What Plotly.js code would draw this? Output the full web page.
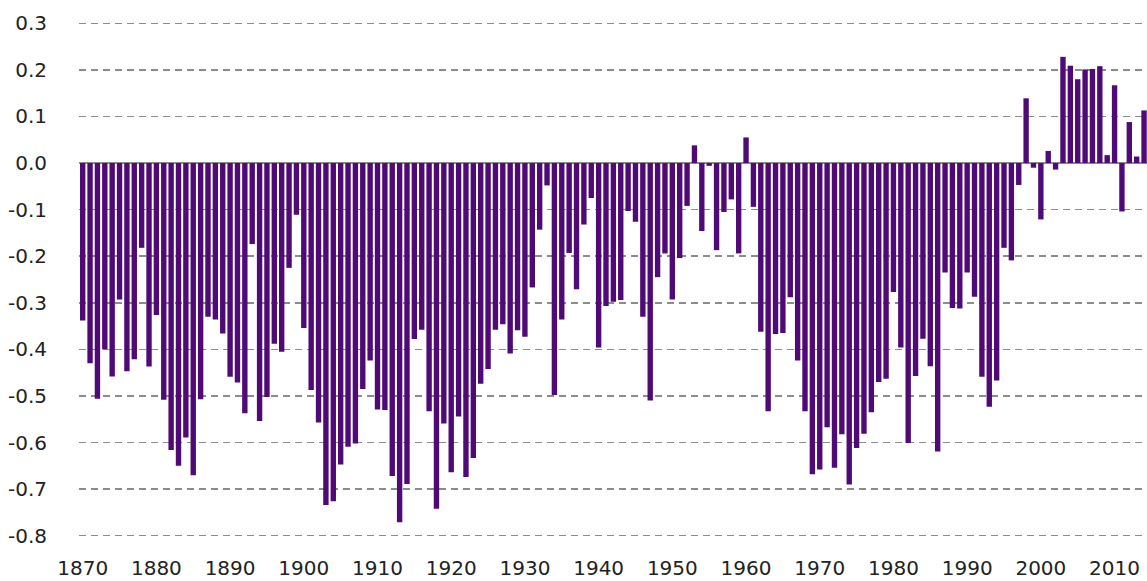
<!DOCTYPE html>
<html>
<head>
<meta charset="utf-8">
<script src="https://cdn.plot.ly/plotly-3.0.1.min.js"></script>
<style>html,body{margin:0;padding:0;background:#fff;}#chart{width:1147px;height:581px;}</style>
</head>
<body>
<div id="chart"></div>
<script>
const years = [];
for (let y = 1870; y <= 2014; y++) years.push(y);

const values = [
  -0.338, -0.430, -0.506, -0.400, -0.458, -0.293, -0.447, -0.421, -0.182, -0.437,
  -0.326, -0.508, -0.616, -0.650, -0.589, -0.670, -0.507, -0.330, -0.336, -0.366,
  -0.459, -0.471, -0.537, -0.174, -0.554, -0.502, -0.388, -0.405, -0.225, -0.111,
  -0.354, -0.487, -0.557, -0.734, -0.726, -0.647, -0.609, -0.602, -0.485, -0.424,
  -0.529, -0.530, -0.672, -0.771, -0.689, -0.378, -0.358, -0.533, -0.742, -0.559,
  -0.664, -0.544, -0.674, -0.633, -0.474, -0.442, -0.358, -0.346, -0.409, -0.359,
  -0.373, -0.267, -0.143, -0.048, -0.498, -0.336, -0.193, -0.271, -0.132, -0.075,
  -0.396, -0.307, -0.298, -0.294, -0.103, -0.126, -0.330, -0.510, -0.245, -0.194,
  -0.293, -0.204, -0.092, 0.038, -0.146, -0.006, -0.187, -0.105, -0.078, -0.194,
  0.055, -0.094, -0.362, -0.533, -0.367, -0.365, -0.288, -0.424, -0.533, -0.668,
  -0.658, -0.567, -0.654, -0.582, -0.690, -0.612, -0.581, -0.535, -0.470, -0.463,
  -0.277, -0.396, -0.601, -0.457, -0.377, -0.436, -0.619, -0.235, -0.311, -0.312,
  -0.235, -0.287, -0.459, -0.523, -0.467, -0.182, -0.209, -0.047, 0.139, -0.010,
  -0.121, 0.026, -0.014, 0.228, 0.209, 0.180, 0.201, 0.202, 0.208, 0.017,
  0.167, -0.104, 0.088, 0.014, 0.113
];

const xTickVals = [1870, 1880, 1890, 1900, 1910, 1920, 1930, 1940, 1950, 1960, 1970, 1980, 1990, 2000, 2010];
const yTickVals = [0.3, 0.2, 0.1, 0.0, -0.1, -0.2, -0.3, -0.4, -0.5, -0.6, -0.7, -0.8];
const yTickText = ["0.3", "0.2", "0.1", "0.0", "-0.1", "-0.2", "-0.3", "-0.4", "-0.5", "-0.6", "-0.7", "-0.8"];

const trace = {
  type: 'bar',
  x: years,
  y: values,
  marker: { color: '#4f0a76', line: { width: 0 } },
  hoverinfo: 'x+y'
};

const layout = {
  width: 1147,
  height: 581,
  margin: { l: 79, r: 0, t: 14, b: 36, pad: 0 },
  paper_bgcolor: '#ffffff',
  plot_bgcolor: '#ffffff',
  bargap: 0.27,
  showlegend: false,
  font: { family: '"DejaVu Sans", sans-serif', size: 20, color: '#222222' },
  xaxis: {
    range: [1869.5, 2014.4],
    tickvals: xTickVals,
    ticktext: xTickVals.map(String),
    showgrid: false,
    zeroline: false,
    showline: false,
    ticks: 'outside',
    ticklen: 5,
    tickcolor: 'rgba(0,0,0,0)',
    tickfont: { size: 20, color: '#222222' }
  },
  yaxis: {
    range: [-0.82, 0.32],
    tickvals: yTickVals,
    ticktext: yTickText,
    showgrid: true,
    gridcolor: '#8c8c8c',
    gridwidth: 1.5,
    griddash: '7px,5px',
    zeroline: true,
    zerolinecolor: '#8c8c8c',
    zerolinewidth: 1.5,
    showline: false,
    ticks: 'outside',
    ticklen: 27,
    tickcolor: 'rgba(0,0,0,0)',
    tickfont: { size: 20, color: '#222222' }
  }
};

Plotly.newPlot('chart', [trace], layout, { displayModeBar: false, staticPlot: true });
</script>
</body>
</html>
